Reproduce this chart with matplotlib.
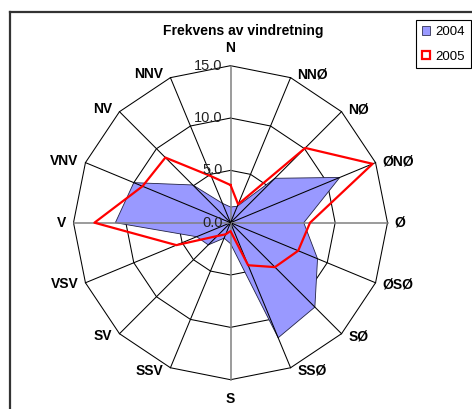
import numpy as np
import matplotlib
matplotlib.use("Agg")
import matplotlib.pyplot as plt
from matplotlib.patches import Patch
from matplotlib.lines import Line2D

plt.rcParams['font.family'] = ['Liberation Sans', 'DejaVu Sans']

directions = ["N", "NNØ", "NØ", "ØNØ", "Ø", "ØSØ", "SØ", "SSØ",
              "S", "SSV", "SV", "VSV", "V", "VNV", "NV", "NNV"]
freq_2004 = [1.5, 1.7, 6.0, 11.3, 7.0, 9.0, 11.4, 11.9,
             2.0, 1.6, 3.0, 3.5, 11.0, 10.0, 5.1, 2.0]
freq_2005 = [3.6, 1.9, 10.1, 14.7, 7.6, 7.0, 6.0, 4.4,
             0.8, 1.2, 1.8, 5.6, 13.0, 9.1, 8.8, 4.8]
ring_values = [5.0, 10.0, 15.0]
tick_values = [0.0, 5.0, 10.0, 15.0]
title = "Frekvens av vindretning"
series_names = ["2004", "2005"]

W, H = 472, 409
fig = plt.figure(figsize=(W / 100, H / 100), dpi=100)

cx, cy, R = 230.5, 222.7, 157.0
ax = fig.add_axes([(cx - R) / W, (H - cy - R) / H, 2 * R / W, 2 * R / H],
                  projection='polar')
ax.set_theta_zero_location('N')
ax.set_theta_direction(-1)
ax.set_ylim(0, 15)
ax.grid(False)
ax.spines['polar'].set_visible(False)
ax.set_xticks([])
ax.set_yticks([])
ax.patch.set_alpha(0)

n = len(directions)
theta = np.arange(n) * 2 * np.pi / n
theta_c = np.append(theta, theta[0])

# polygon rings
for rv in ring_values:
    ax.plot(theta_c, [rv] * (n + 1), color='black', lw=0.75, zorder=1,
            clip_on=False)

# 2004 filled area
v04 = np.append(freq_2004, freq_2004[0])
ax.fill(theta_c, v04, facecolor='#9999FF', edgecolor='#222244', lw=0.6,
        zorder=2)

# spokes
for i, t in enumerate(theta):
    if i % 4 == 0:
        ax.plot([t, t], [0, 15], color='#808080', lw=1.1, zorder=3, clip_on=False)
    else:
        ax.plot([t, t], [0, 15], color='black', lw=0.75, zorder=3, clip_on=False)

# 2005 line
v05 = np.append(freq_2005, freq_2005[0])
ax.plot(theta_c, v05, color='#FF0000', lw=1.6, zorder=4, clip_on=False)

# value tick labels
for tv in tick_values:
    ax.annotate(f"{tv:.1f}", xy=(0, tv), xytext=(-8, 0),
                textcoords='offset pixels', ha='right', va='center',
                fontsize=10.5, color='#222222', zorder=5)

# direction labels
for lab, t in zip(directions, theta):
    s, c = np.sin(t), np.cos(t)
    if abs(s) < 0.01:
        ha = 'center'
        va = 'bottom' if c > 0 else 'top'
        off = (0, 11 if c > 0 else -12)
    else:
        ha = 'left' if s > 0 else 'right'
        va = 'center'
        off = (7 * np.sign(s), 3.5 * c)
    ax.annotate(lab, xy=(t, 15), xytext=off, textcoords='offset pixels',
                ha=ha, va=va, fontsize=10, fontweight='bold',
                annotation_clip=False)

# title
fig.text(243.5 / W, 1 - 31 / H, title, ha='center', va='center',
         fontsize=10, fontweight='bold')

# outer frame (chart area)
fig.add_artist(Line2D([10 / W, 1.0], [1 - 12 / H, 1 - 12 / H],
                      transform=fig.transFigure, color='#333333', lw=1.6))
fig.add_artist(Line2D([10 / W, 10 / W], [0, 1 - 12 / H],
                      transform=fig.transFigure, color='#333333', lw=1.6))

# legend
handles = [Patch(facecolor='#9999FF', edgecolor='#333355', lw=0.6),
           Patch(facecolor='white', edgecolor='#FF0000', lw=1.6)]
leg = fig.legend(handles, series_names, loc='upper right',
                 bbox_to_anchor=(470.5 / W, 1 - 20 / H),
                 bbox_transform=fig.transFigure,
                 fontsize=9.5, frameon=True, fancybox=False, framealpha=1,
                 edgecolor='black', borderpad=0.45, labelspacing=0.95,
                 handlelength=0.65, handleheight=0.65, handletextpad=0.35,
                 borderaxespad=0)
leg.get_frame().set_linewidth(0.8)

fig.savefig("out.png", dpi=100)
